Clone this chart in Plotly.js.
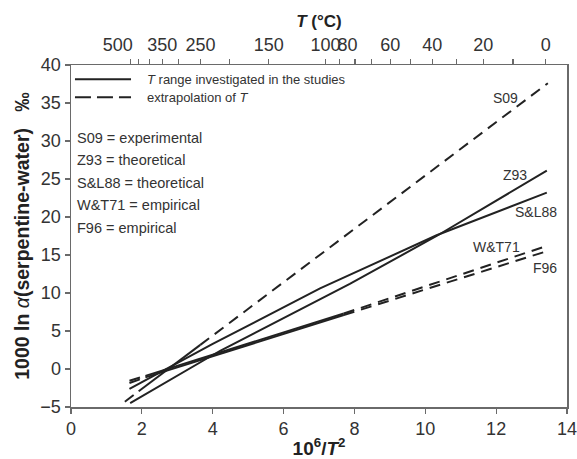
<!DOCTYPE html>
<html>
<head>
<meta charset="utf-8">
<script src="https://cdn.plot.ly/plotly-3.0.1.min.js"></script>
<style>html,body{margin:0;padding:0;background:#fff;}#chart{width:577px;height:459px;}</style>
</head>
<body>
<div id="chart"></div>
<script>
// ---- data ----
// S09 (experimental): solid over the studied range, dashed extrapolation on both sides
var s09LoX = [1.52, 1.91],  s09LoY = [-4.3, -2.93];
var s09X   = [1.91, 3.65],  s09Y   = [-2.93, 3.17];
var s09HiX = [3.65, 13.46], s09HiY = [3.17, 37.6];
// Z93 (theoretical) – solid
var z93X = [1.67, 4.21, 7.87, 10.32, 13.43];
var z93Y = [-4.5, 2.4, 11.2, 17.5, 26.1];
// S&L88 (theoretical) – solid
var sl88X = [1.65, 2.55, 4.0, 7.03, 10.32, 13.43];
var sl88Y = [-2.6, -0.3, 3.3, 10.6, 17.6, 23.2];
// W&T71 (empirical)
var wt71LoX = [1.65, 2.1],        wt71LoY = [-1.55, -0.9];
var wt71X   = [2.1, 4.58, 7.7],   wt71Y   = [-0.9, 2.7, 7.3];
var wt71HiX = [7.7, 13.43],       wt71HiY = [7.3, 16.2];
// F96 (empirical)
var f96LoX = [1.65, 2.1],         f96LoY = [-1.85, -1.1];
var f96X   = [2.1, 4.58, 7.7],    f96Y   = [-1.1, 2.55, 7.1];
var f96HiX = [7.7, 13.43],        f96HiY = [7.1, 15.5];

// top axis temperature ticks (°C)
var tempLabeled = [500, 350, 250, 150, 100, 80, 60, 40, 20, 0];
var tempLabelText = ['500\u00a0\u00a0\u00a0\u00a0\u00a0', '350', '250', '150', '100', '80\u00a0\u00a0\u00a0', '60', '40', '20', '0'];
var tempMinor = [450, 400, 300, 200, 90, 70, 50, 30, 10];
var xTicks = [0, 2, 4, 6, 8, 10, 12, 14];
var yTicks = [-5, 0, 5, 10, 15, 20, 25, 30, 35, 40];

var seriesLabels = ['S09', 'Z93', 'S&L88', 'W&T71', 'F96'];
var labelX = [12.25, 12.53, 13.12, 12.02, 13.38];
var labelY = [35.66, 25.5, 20.66, 16.05, 13.3];
var infoLines = ['S09 = experimental', 'Z93 = theoretical', 'S&L88 = theoretical', 'W&T71 = empirical', 'F96 = empirical'];

// ---- drawing ----
var LC = '#222';
function seg(x, y, dash) {
  return {x: x, y: y, type: 'scatter', mode: 'lines', showlegend: false, hoverinfo: 'skip',
          line: {color: LC, width: 2, dash: dash ? '11px,7px' : 'solid'}};
}
var traces = [
  seg(s09LoX, s09LoY, true), seg(s09X, s09Y, false), seg(s09HiX, s09HiY, true),
  seg(z93X, z93Y, false),
  seg(sl88X, sl88Y, false),
  seg(wt71LoX, wt71LoY, true), seg(wt71X, wt71Y, false), seg(wt71HiX, wt71HiY, true),
  seg(f96LoX, f96LoY, true), seg(f96X, f96Y, false), seg(f96HiX, f96HiY, true),
  {x: [null], y: [null], xaxis: 'x2', yaxis: 'y', showlegend: false, hoverinfo: 'skip', mode: 'lines'}
];

function tToX(t) { return 1e6 / Math.pow(t + 273.15, 2); }
var topVals = tempLabeled.map(tToX);
var topMinor = tempMinor.map(tToX);

var FONT = 'Liberation Sans, Arial, Helvetica, sans-serif';
var AX = '#6a6a6a';
var annotations = [];
seriesLabels.forEach(function (s, i) {
  annotations.push({x: labelX[i], y: labelY[i], xref: 'x', yref: 'y', text: s, showarrow: false,
    font: {family: FONT, size: 14, color: '#333'}});
});
var infoY = [0.7874, 0.7222, 0.655, 0.5906, 0.5243];
infoLines.forEach(function (s, i) {
  annotations.push({x: 0.0085, y: infoY[i], xref: 'paper', yref: 'paper', xanchor: 'left', yanchor: 'middle',
    text: s, showarrow: false, font: {family: FONT, size: 14.5, color: '#333'}});
});
annotations.push({x: 0.149, y: 0.9582, xref: 'paper', yref: 'paper', xanchor: 'left', yanchor: 'middle',
  text: '<i>T</i> range investigated in the studies', showarrow: false, font: {family: FONT, size: 13, color: '#333'}});
annotations.push({x: 0.149, y: 0.9055, xref: 'paper', yref: 'paper', xanchor: 'left', yanchor: 'middle',
  text: 'extrapolation of <i>T</i>', showarrow: false, font: {family: FONT, size: 13, color: '#333'}});

var shapes = [
  {type: 'line', xref: 'paper', yref: 'paper', x0: 0.008, x1: 0.121, y0: 0.9582, y1: 0.9582, line: {color: LC, width: 2}},
  {type: 'line', xref: 'paper', yref: 'paper', x0: 0.008, x1: 0.121, y0: 0.9055, y1: 0.9055, line: {color: LC, width: 2, dash: '16px,6px'}}
];

var layout = {
  width: 577, height: 459,
  margin: {l: 71, r: 10, t: 65, b: 52, pad: 0},
  paper_bgcolor: '#fff', plot_bgcolor: '#fff',
  font: {family: FONT, size: 18, color: '#333'},
  showlegend: false,
  xaxis: {
    range: [0, 14], tickvals: xTicks, ticks: 'outside', ticklen: 5, tickwidth: 1.2, tickcolor: AX,
    ticklabeloverflow: 'allow',
    showline: true, linecolor: AX, linewidth: 1.5, showgrid: false, zeroline: false,
    tickfont: {family: FONT, size: 18, color: '#333'},
    title: {text: '<b>10<sup>6</sup>/<i>T</i><sup>2</sup></b>', font: {family: FONT, size: 19, color: '#222'}, standoff: 4}
  },
  xaxis2: {
    overlaying: 'x', side: 'top', range: [0, 14], tickmode: 'array', tickvals: topVals, ticktext: tempLabelText,
    tickangle: 0, ticklabeloverflow: 'allow',
    ticks: 'outside', ticklen: 5, tickwidth: 1.2, tickcolor: AX,
    minor: {tickmode: 'array', tickvals: topMinor, ticks: 'outside', ticklen: 5, tickwidth: 1.2, tickcolor: AX, showgrid: false},
    showline: true, linecolor: AX, linewidth: 1.5, showgrid: false, zeroline: false,
    tickfont: {family: FONT, size: 18, color: '#333'},
    title: {text: '<b><i>T</i> (°C)</b>', font: {family: FONT, size: 17, color: '#222'}, standoff: 3}
  },
  yaxis: {
    range: [-5, 40], tickvals: yTicks, ticks: 'outside', ticklen: 5, tickwidth: 1.2, tickcolor: AX,
    showline: true, mirror: true, linecolor: AX, linewidth: 1.5, showgrid: false, zeroline: false,
    tickfont: {family: FONT, size: 18, color: '#333'},
    title: {text: '<b>1000 ln </b><i>α</i><b>(serpentine-water)\u00a0\u00a0\u00a0‰</b>', font: {family: FONT, size: 19.5, color: '#222'}, standoff: 5}
  },
  annotations: annotations,
  shapes: shapes
};

Plotly.newPlot('chart', traces, layout, {displayModeBar: false, staticPlot: true});
</script>
</body>
</html>
